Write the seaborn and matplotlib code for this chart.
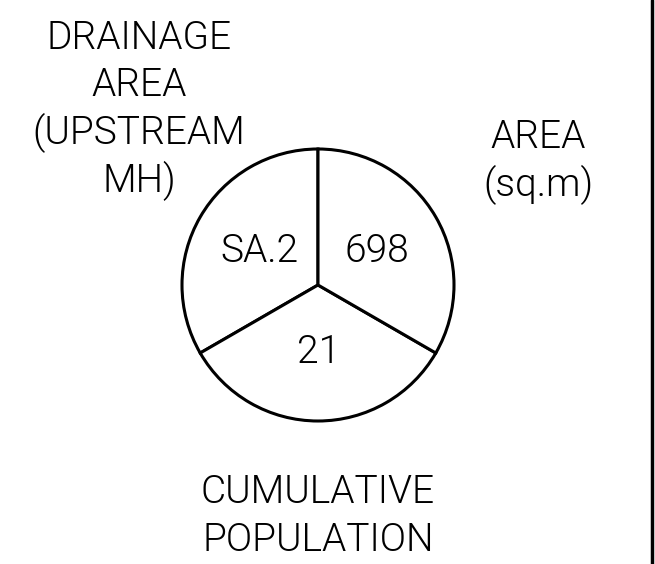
import matplotlib
matplotlib.use('Agg')
import matplotlib.pyplot as plt
import seaborn as sns

# three equal sectors of the manhole tag
sector_values = [1, 1, 1]
sector_labels = ['SA.2', '21', '698']

left_label = ['DRAINAGE', 'AREA', '(UPSTREAM', 'MH)']
right_label = ['AREA', '(sq.m)']
bottom_label = ['CUMULATIVE', 'POPULATION']

sns.set_theme(style='white')
plt.rcParams['font.family'] = ['Roboto', 'DejaVu Sans']

W, H = 655, 564
fig = plt.figure(figsize=(W / 100, H / 100), dpi=100)
ax = fig.add_axes([0, 0, 1, 1])

cx, cy, r = 318, H - 285, 136
ax.pie(sector_values, startangle=90, center=(cx, cy), radius=r,
       colors=['white'] * 3,
       wedgeprops=dict(edgecolor='black', linewidth=2.2))

ax.set_xlim(0, W)
ax.set_ylim(0, H)
ax.set_aspect('equal')
ax.axis('off')

txt = dict(fontsize=28, fontweight=300, color='black', ha='center', va='center')

# labels inside the circle
inner_pos = [(259, 251), (319, 352), (377, 251)]
for (x, y), s in zip(inner_pos, sector_labels):
    ax.text(x, H - y, s, **txt)

for i, s in enumerate(left_label):
    ax.text(139, H - (38 + 47.5 * i), s, **txt)
for i, s in enumerate(right_label):
    ax.text(538, H - (137 + 48 * i), s, **txt)
for i, s in enumerate(bottom_label):
    ax.text(318, H - (492 + 48 * i), s, **txt)

# sheet border on the right
ax.plot([652, 652], [0, H], color='black', linewidth=2.5)

fig.savefig('out.png', dpi=100)
